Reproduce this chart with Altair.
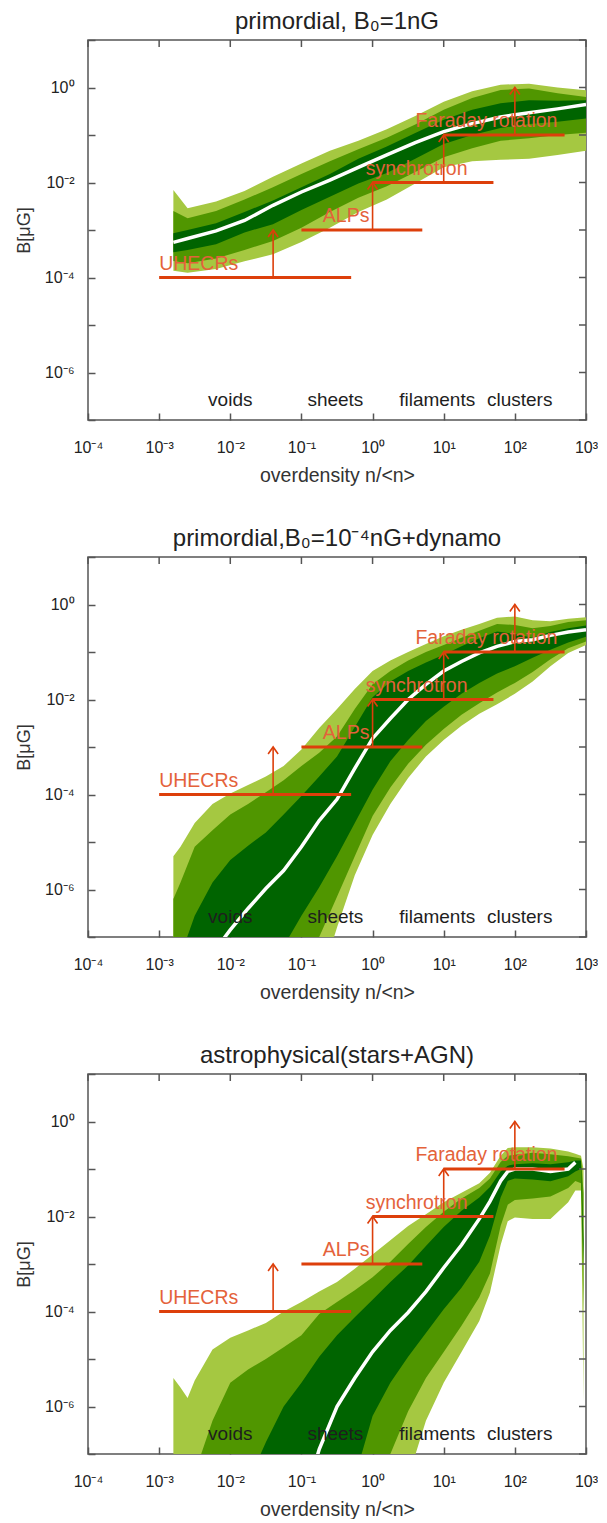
import altair as alt
import pandas as pd

# ---------------- colours / fonts ----------------
LIGHT = "#a5c841"
MEDIUM = "#509600"
DARK = "#006400"
PROBE_LINE = "#dd3f0b"
PROBE_TEXT = "#e4623a"
FRAME = "#555555"
FONT = "Liberation Sans"

# ---------------- axes ----------------
X_DOMAIN = [1e-4, 1e3]
Y_DOMAIN = [1e-7, 1e1]
X_TICKS = [1e-4, 1e-3, 1e-2, 1e-1, 1e0, 1e1, 1e2, 1e3]
Y_TICKS = [1e-7, 1e-6, 1e-5, 1e-4, 1e-3, 1e-2, 1e-1, 1e0, 1e1]
SUPS = ["⁻⁷", "⁻⁶", "⁻⁵", "⁻⁴", "⁻³", "⁻²", "⁻¹", "⁰", "¹", "²", "³"]

# ---------------- annotations ----------------
REGION_NAMES = ["voids", "sheets", "filaments", "clusters"]
REGION_X = [0.01, 0.3, 8.1, 117.0]
REGION_Y = [2.6e-7, 2.6e-7, 2.6e-7, 2.6e-7]

PROBE_NAMES = ["UHECRs", "ALPs", "synchrotron", "Faraday rotation"]
PROBE_X0 = [1e-3, 0.1, 1.0, 10.0]
PROBE_X1 = [0.5, 5.0, 50.0, 500.0]
PROBE_B = [1e-4, 1e-3, 1e-2, 1e-1]
PROBE_LABEL_X = [1e-3, 0.2, 0.8, 4.0]
ARROW_X = [0.04, 1.0, 10.0, 100.0]
ARROW_TIP = [1e-3, 1e-2, 1e-1, 1e0]

TITLES = ["primordial, B₀=1nG", "primordial,B₀=10⁻⁴nG+dynamo", "astrophysical(stars+AGN)"]
TITLE_X = 10 ** -0.5   # middle of the log x range
TITLE_Y = 1e1          # top edge of the plot

# ---------------- panel 1: primordial, B0 = 1 nG (log10 values) ----------------
P1_LOGX = [-2.8, -2.6, -2.2, -1.8, -1.4, -1.0, -0.6, -0.2, 0.2, 0.6, 1.0, 1.4, 1.8, 2.2, 2.6, 3.0]
P1_L3T = [-2.16, -2.54, -2.4, -2.18, -1.88, -1.6, -1.33, -1.12, -0.88, -0.6, -0.3, -0.08, 0.06, 0.08, 0.0, -0.06]
P1_L2T = [-2.6, -2.75, -2.6, -2.36, -2.1, -1.82, -1.55, -1.3, -1.06, -0.78, -0.47, -0.22, -0.05, -0.02, -0.12, -0.2]
P1_L1T = [-3.07, -3.0, -2.86, -2.62, -2.38, -2.1, -1.82, -1.5, -1.24, -0.96, -0.68, -0.47, -0.33, -0.27, -0.28, -0.27]
P1_MED = [-3.26, -3.18, -3.02, -2.8, -2.48, -2.2, -1.95, -1.68, -1.42, -1.16, -0.93, -0.76, -0.62, -0.53, -0.45, -0.36]
P1_L1B = [-3.47, -3.42, -3.3, -3.05, -2.88, -2.58, -2.3, -2.02, -1.8, -1.5, -1.19, -1.0, -0.85, -0.77, -0.72, -0.65]
P1_L2B = [-3.65, -3.7, -3.6, -3.42, -3.23, -2.95, -2.62, -2.32, -2.08, -1.78, -1.47, -1.28, -1.12, -1.07, -1.0, -0.95]
P1_L3B = [-3.86, -3.9, -3.82, -3.66, -3.51, -3.25, -2.95, -2.62, -2.36, -2.02, -1.68, -1.55, -1.52, -1.5, -1.42, -1.33]

# ---------------- panel 2: primordial, B0 = 1e-4 nG + dynamo ----------------
P2_LOGX = [-2.8, -2.7, -2.5, -2.25, -2.0, -1.75, -1.5, -1.25, -1.0, -0.75, -0.5, -0.25, 0.0,
           0.25, 0.5, 0.75, 1.0, 1.25, 1.5, 1.75, 2.0, 2.25, 2.5, 2.75, 3.0]
P2_L3T = [-5.3, -5.1, -4.6, -4.2, -3.98, -3.8, -3.62, -3.4, -3.05, -2.6, -2.2, -1.78, -1.4,
          -1.18, -1.0, -0.83, -0.67, -0.53, -0.41, -0.28, -0.25, -0.33, -0.35, -0.3, -0.27]
P2_L2T = [-6.2, -5.85, -5.1, -4.75, -4.42, -4.2, -3.95, -3.7, -3.4, -3.12, -2.78, -2.2, -1.68,
          -1.4, -1.18, -1.0, -0.85, -0.7, -0.55, -0.41, -0.43, -0.5, -0.45, -0.37, -0.33]
P2_L1T = [-8.0, -7.4, -6.55, -5.85, -5.38, -5.08, -4.8, -4.42, -4.03, -3.62, -3.2, -2.58, -1.95,
          -1.62, -1.4, -1.22, -1.06, -0.88, -0.71, -0.57, -0.62, -0.7, -0.58, -0.5, -0.44]
P2_MED = [-9.0, -9.0, -8.0, -7.35, -6.85, -6.4, -5.98, -5.6, -5.1, -4.55, -4.1, -3.45, -2.82,
          -2.4, -2.0, -1.68, -1.4, -1.2, -1.02, -0.88, -0.78, -0.74, -0.65, -0.58, -0.53]
P2_L1B = [-9.0, -9.0, -9.0, -9.0, -9.0, -9.0, -9.0, -7.2, -6.55, -5.95, -5.3, -4.6, -3.9,
          -3.3, -2.85, -2.45, -2.15, -1.88, -1.65, -1.45, -1.3, -1.12, -0.95, -0.8, -0.68]
P2_L2B = [-9.0, -9.0, -9.0, -9.0, -9.0, -9.0, -9.0, -9.0, -8.0, -7.0, -6.15, -5.3, -4.45,
          -3.85, -3.35, -2.95, -2.62, -2.32, -2.08, -1.85, -1.65, -1.42, -1.15, -0.92, -0.78]
P2_L3B = [-9.0, -9.0, -9.0, -9.0, -9.0, -9.0, -9.0, -9.0, -9.0, -8.0, -6.8, -5.7, -4.85,
          -4.2, -3.65, -3.2, -2.85, -2.55, -2.3, -2.1, -1.88, -1.62, -1.3, -1.02, -0.85]

# ---------------- panel 3: astrophysical (stars + AGN) ----------------
P3_LOGX = [-2.8, -2.7, -2.6, -2.5, -2.25, -2.0, -1.75, -1.5, -1.25, -1.0, -0.75, -0.5, -0.25, 0.0,
           0.25, 0.5, 0.75, 1.0, 1.25, 1.5, 1.65, 1.8, 1.9, 2.0, 2.25, 2.5, 2.75, 2.85, 2.93, 2.965]
P3_L3T = [-5.4, -5.6, -5.82, -5.45, -4.8, -4.55, -4.4, -4.24, -4.0, -3.8, -3.58, -3.38, -3.1, -2.8,
          -2.5, -2.2, -1.95, -1.7, -1.5, -1.3, -1.08, -0.72, -0.56, -0.54, -0.54, -0.57, -0.63, -0.68, -0.72, -1.0]
P3_L2T = [-9.0, -9.0, -8.2, -7.4, -6.3, -5.5, -5.22, -5.0, -4.75, -4.5, -4.05, -3.8, -3.55, -3.28,
          -2.95, -2.58, -2.22, -1.9, -1.62, -1.4, -1.2, -0.85, -0.72, -0.7, -0.66, -0.69, -0.73, -0.76, -0.78, -1.5]
P3_L1T = [-9.0, -9.0, -9.0, -9.0, -9.0, -9.0, -7.6, -6.75, -6.0, -5.5, -4.95, -4.5, -4.12, -3.75,
          -3.38, -3.03, -2.62, -2.22, -1.88, -1.6, -1.38, -1.05, -0.93, -0.9, -0.88, -0.9, -0.86, -0.82, -0.82, -2.5]
P3_MED = [None, None, None, None, None, None, None, None, None, -8.2, -6.9, -6.0, -5.4, -4.85,
          -4.4, -4.02, -3.58, -3.08, -2.6, -2.05, -1.68, -1.25, -1.05, -1.0, -1.0, -1.05, -1.0, -0.86, None, None]
P3_L1B = [-9.0, -9.0, -9.0, -9.0, -9.0, -9.0, -9.0, -9.0, -9.0, -9.0, -9.0, -9.0, -7.5, -6.2,
          -5.5, -4.95, -4.45, -3.95, -3.5, -2.95, -2.4, -1.6, -1.25, -1.2, -1.22, -1.26, -1.15, -1.05, -1.0, -3.0]
P3_L2B = [-9.0, -9.0, -9.0, -9.0, -9.0, -9.0, -9.0, -9.0, -9.0, -9.0, -9.0, -9.0, -9.0, -8.2,
          -7.0, -6.1, -5.4, -4.85, -4.3, -3.7, -3.2, -2.2, -1.75, -1.65, -1.62, -1.58, -1.4, -1.25, -1.3, -4.0]
P3_L3B = [-9.0, -9.0, -9.0, -9.0, -9.0, -9.0, -9.0, -9.0, -9.0, -9.0, -9.0, -9.0, -9.0, -9.0,
          -8.5, -7.5, -6.3, -5.5, -4.85, -4.2, -3.6, -2.6, -2.1, -2.02, -2.05, -2.05, -1.7, -1.45, -1.45, -5.9]

W, H, TICK = 498, 380, 7


def to_b(vals):
    return [None if v is None else 10.0 ** v for v in vals]


xs = alt.Scale(type="log", domain=X_DOMAIN, nice=False)
ys = alt.Scale(type="log", domain=Y_DOMAIN, nice=False)
SUP_ARR = "[" + ",".join("'" + s + "'" for s in SUPS) + "]"
EXP = SUP_ARR + "[round(log(datum.value)/LN10)+7]"

XAX = alt.Axis(orient="bottom", values=X_TICKS, labelExpr="'10' + " + EXP,
               offset=-TICK, tickSize=TICK, domain=False, grid=False, labelPadding=19,
               labelFlush=False, labelOverlap=False, labelFontSize=16,
               title="overdensity n/<n>", titleFontSize=19.5, titlePadding=11)
YAX = alt.Axis(orient="left", values=Y_TICKS,
               labelExpr="(round(log(datum.value)/LN10) % 2 == 0) ? '10' + " + EXP + " : ''",
               offset=-TICK, tickSize=TICK, domain=False, grid=False, labelPadding=14,
               labelOverlap=False, labelFontSize=16,
               title="B[μG]", titleFontSize=18, titlePadding=11)

region_df = pd.DataFrame({"name": REGION_NAMES, "x": REGION_X, "y": REGION_Y})
probe_df = pd.DataFrame({"name": PROBE_NAMES, "x0": PROBE_X0, "x1": PROBE_X1, "b": PROBE_B,
                         "lx": PROBE_LABEL_X, "ax": ARROW_X, "tip": ARROW_TIP})
xt_df = pd.DataFrame({"v": X_TICKS})
yt_df = pd.DataFrame({"v": Y_TICKS})


def X(field):
    return alt.X(field, type="quantitative", scale=xs, axis=XAX)


def Y(field):
    return alt.Y(field, type="quantitative", scale=ys, axis=YAX)


def make_panel(title, logx, l3t, l2t, l1t, med, l1b, l2b, l3b):
    df = pd.DataFrame({"x": [10.0 ** v for v in logx],
                       "l3t": to_b(l3t), "l2t": to_b(l2t), "l1t": to_b(l1t), "med": to_b(med),
                       "l1b": to_b(l1b), "l2b": to_b(l2b), "l3b": to_b(l3b)})
    base = alt.Chart(df)
    light = base.mark_area(color=LIGHT, clip=True).encode(x=X("x"), y=Y("l3t"), y2="l3b:Q")
    medium = base.mark_area(color=MEDIUM, clip=True).encode(x=X("x"), y=Y("l2t"), y2="l2b:Q")
    dark = base.mark_area(color=DARK, clip=True).encode(x=X("x"), y=Y("l1t"), y2="l1b:Q")
    white = base.mark_line(color="white", strokeWidth=3.5, clip=True).encode(x=X("x"), y=Y("med"))
    # inward ticks on the top and right frame edges (positions from the scales)
    top_ticks = alt.Chart(xt_df).mark_rule(color=FRAME, strokeWidth=1.5).encode(
        x=X("v"), y=alt.value(0), y2=alt.value(TICK))
    right_ticks = alt.Chart(yt_df).mark_rule(color=FRAME, strokeWidth=1.5).encode(
        y=Y("v"), x=alt.value(W - TICK), x2=alt.value(W))
    regions = alt.Chart(region_df).mark_text(
        font=FONT, fontSize=19, color="#1e1e1e", align="center", baseline="middle").encode(
        x=X("x"), y=Y("y"), text="name:N")
    plines = alt.Chart(probe_df).mark_rule(color=PROBE_LINE, strokeWidth=3).encode(
        x=X("x0"), x2="x1:Q", y=Y("b"))
    shafts = alt.Chart(probe_df).mark_rule(color=PROBE_LINE, strokeWidth=1.6).encode(
        x=X("ax"), y=Y("b"), y2="tip:Q")
    heads = alt.Chart(probe_df).mark_point(
        shape="M-1,1.4L0,0L1,1.4", filled=False, size=100, color=PROBE_LINE,
        strokeWidth=1.6, opacity=1).encode(x=X("ax"), y=Y("tip"))
    plabels = alt.Chart(probe_df).mark_text(
        font=FONT, fontSize=19.5, color=PROBE_TEXT, align="left", baseline="alphabetic",
        dy=-8).encode(x=X("lx"), y=Y("b"), text="name:N")
    title_df = pd.DataFrame({"t": [title], "x": [TITLE_X], "y": [TITLE_Y]})
    ttl = alt.Chart(title_df).mark_text(
        font=FONT, fontSize=24, color="#222222", align="center", baseline="alphabetic",
        dy=-11.5).encode(x=X("x"), y=Y("y"), text="t:N")
    return alt.layer(light, medium, dark, white, top_ticks, right_ticks, regions,
                     plines, shafts, heads, plabels, ttl).properties(width=W, height=H)


p1 = make_panel(TITLES[0], P1_LOGX, P1_L3T, P1_L2T, P1_L1T, P1_MED, P1_L1B, P1_L2B, P1_L3B)
p2 = make_panel(TITLES[1], P2_LOGX, P2_L3T, P2_L2T, P2_L1T, P2_MED, P2_L1B, P2_L2B, P2_L3B)
p3 = make_panel(TITLES[2], P3_LOGX, P3_L3T, P3_L2T, P3_L1T, P3_MED, P3_L1B, P3_L2B, P3_L3B)

chart = alt.vconcat(p1, p2, p3, spacing=39).properties(
    padding={"left": 6, "top": 0, "right": -1, "bottom": -1}
).configure_view(stroke=FRAME, strokeWidth=1.5).configure_axis(
    labelFont=FONT, titleFont=FONT, labelColor="#222222", titleColor="#333333",
    tickColor=FRAME, tickWidth=1.5, titleFontWeight="normal")

chart.save("out.html", embed_options={"renderer": "svg", "actions": False})
